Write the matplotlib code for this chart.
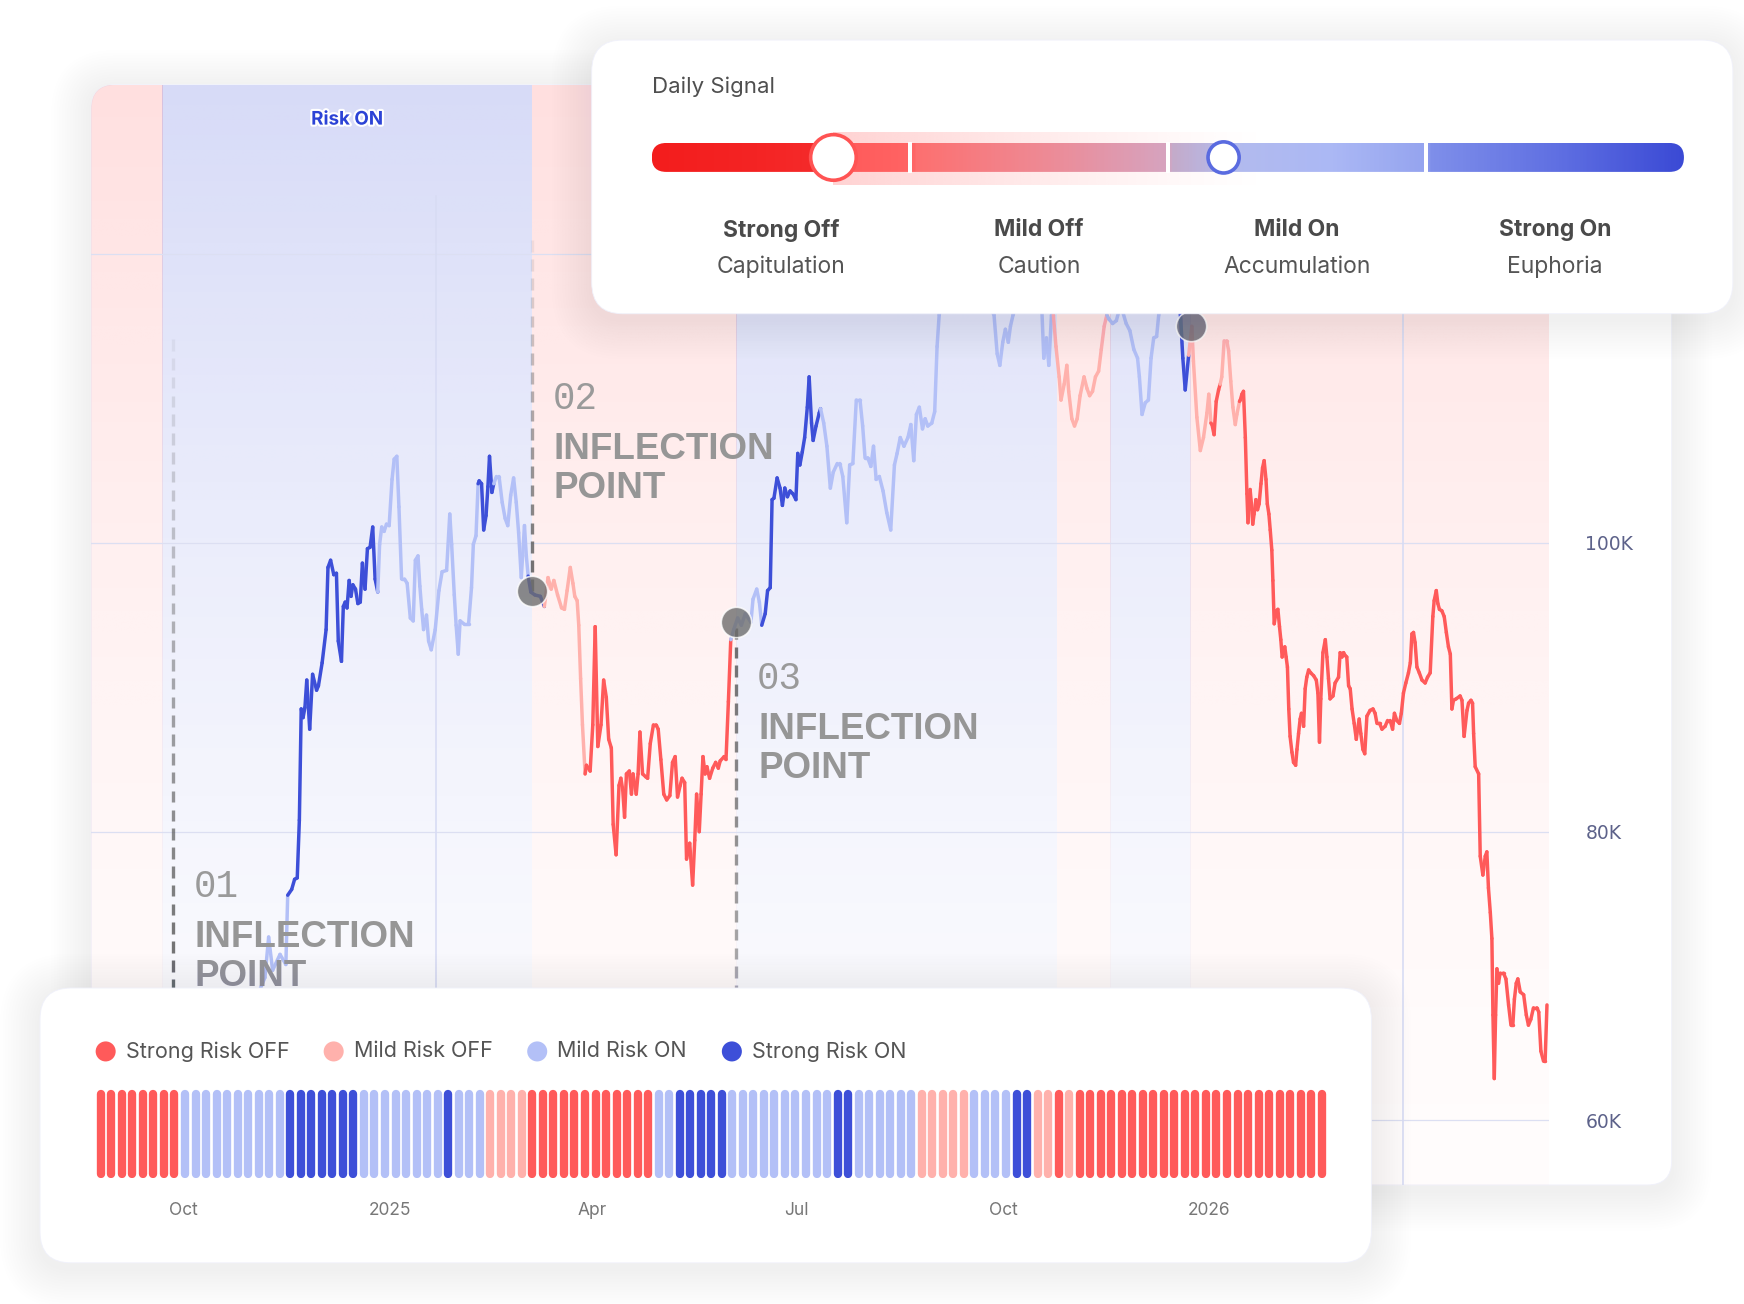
import numpy as np
import pandas as pd
import matplotlib
matplotlib.use("Agg")
import matplotlib.pyplot as plt
import matplotlib.dates as mdates
import matplotlib.transforms as mtransforms
import matplotlib.patheffects as pe
from matplotlib.patches import FancyBboxPatch, Circle, Rectangle
from matplotlib.collections import LineCollection
from matplotlib.colors import LinearSegmentedColormap, to_rgba

plt.rcParams['font.family'] = ['Inter', 'DejaVu Sans']

BASE = pd.Timestamp('2025-01-01')

# ---------------- data ----------------
regime_names = ['Strong Risk OFF', 'Mild Risk OFF', 'Mild Risk ON', 'Strong Risk ON']
regime_colors = ['#ff5a5a', '#ffb1ac', '#b3c0f7', '#3d4fd8']

# price path: days since 2025-01-01 and price in thousands
price_day = [
    -129.0, -124.0, -118.0, -112.0, -106.0, -100.0, -94.0, -88.0, -82.0, -76.0,
    -70.0, -64.6, -63.2, -61.7, -58.9, -56.7, -56.0, -54.5, -53.4, -52.4,
    -51.6, -50.9, -50.2, -49.5, -48.8, -47.7, -46.6, -45.1, -44.4, -43.0,
    -41.5, -40.8, -39.8, -38.6, -37.6, -36.9, -35.7, -35.0, -34.3, -33.6,
    -32.8, -32.1, -31.4, -30.4, -29.5, -28.6, -27.8, -26.8, -25.9, -24.9,
    -23.9, -23.0, -22.0, -21.3, -20.5, -19.6, -18.7, -17.7, -16.6, -15.8,
    -14.8, -14.0, -13.0, -11.9, -10.9, -9.7, -8.6, -7.8, -6.8, -6.1,
    -5.4, -4.7, -3.6, -2.8, -1.8, -0.3, 1.1, 2.3, 4.0, 5.2,
    5.9, 6.9, 7.6, 8.4, 9.1, 10.5, 12.3, 13.4, 14.1, 15.1,
    15.9, 16.3, 17.2, 18.0, 18.9, 19.6, 20.2, 21.1, 21.8, 22.8,
    23.8, 25.0, 26.1, 27.1, 28.2, 29.3, 30.3, 31.2, 32.2, 33.4,
    34.1, 34.8, 35.8, 37.3, 39.4, 40.9, 42.3, 43.5, 44.5, 45.9,
    47.4, 48.5, 49.5, 50.7, 51.7, 52.4, 53.3, 53.9, 54.6, 55.3,
    56.3, 56.8, 58.2, 59.2, 60.1, 61.1, 62.3, 63.3, 64.3, 65.2,
    66.2, 66.9, 68.0, 69.1, 69.8, 70.5, 71.2, 71.9, 73.0, 73.8,
    74.4, 75.6, 76.3, 77.0, 78.0, 79.2, 79.9, 80.9, 82.1, 83.1,
    83.9, 84.9, 86.0, 87.1, 88.3, 89.3, 90.3, 91.2, 92.2, 92.9,
    93.9, 94.6, 95.8, 96.9, 97.7, 98.4, 99.4, 100.1, 100.8, 101.6,
    102.3, 103.3, 104.5, 105.6, 106.6, 107.3, 108.8, 109.5, 110.4, 111.3,
    112.4, 113.9, 115.3, 116.8, 118.9, 119.7, 121.1, 122.1, 123.0, 124.3,
    125.2, 126.2, 126.9, 127.6, 128.8, 129.9, 130.8, 131.7, 132.7, 133.7,
    134.8, 135.9, 136.6, 137.4, 138.3, 139.2, 140.2, 140.9, 141.8, 142.4,
    143.5, 144.7, 145.2, 146.4, 147.6, 148.9, 150.0, 151.5, 152.5, 153.6,
    155.1, 156.2, 157.4, 158.7, 160.1, 161.1, 162.0, 163.0, 164.2, 165.2,
    166.2, 167.4, 168.8, 170.2, 171.7, 173.1, 174.1, 175.3, 176.7, 178.2,
    179.3, 180.4, 181.4, 182.5, 183.7, 184.7, 185.7, 187.2, 188.3, 189.2,
    190.0, 192.0, 194.0, 195.0, 197.0, 200.0, 203.0, 206.0, 208.5, 210.7,
    211.9, 212.9, 214.0, 215.0, 216.1, 216.9, 217.9, 220.0, 223.0, 224.5,
    226.0, 228.8, 229.5, 230.5, 231.4, 232.4, 233.1, 234.1, 235.3, 236.0,
    237.2, 238.2, 238.9, 240.1, 241.1, 242.1, 243.2, 244.7, 245.8, 246.8,
    247.9, 249.0, 250.2, 251.2, 252.3, 253.3, 254.1, 255.5, 256.9, 258.5,
    260.6, 262.0, 263.5, 264.9, 265.6, 266.6, 267.8, 269.0, 270.0, 271.0,
    272.1, 272.9, 274.5, 276.5, 278.5, 279.5, 280.5, 281.1, 282.0, 282.9,
    284.2, 285.4, 286.0, 287.3, 288.6, 289.8, 291.1, 291.8, 292.6, 293.0,
    293.8, 294.6, 295.5, 296.1, 296.7, 297.6, 298.6, 299.3, 300.1, 300.9,
    301.8, 302.4, 303.4, 303.7, 304.3, 304.9, 305.6, 306.2, 306.6, 307.1,
    307.4, 308.1, 308.4, 308.9, 309.6, 310.2, 310.8, 311.5, 312.1, 312.7,
    313.4, 313.9, 314.5, 315.0, 315.6, 316.0, 316.5, 317.3, 317.9, 318.5,
    319.0, 319.5, 320.0, 320.5, 321.0, 321.5, 322.0, 322.5, 323.2, 323.8,
    324.6, 325.1, 325.7, 326.3, 326.8, 327.6, 328.2, 328.8, 329.5, 330.3,
    331.4, 332.4, 333.0, 333.6, 334.1, 334.9, 335.8, 336.4, 337.0, 337.6,
    338.7, 339.5, 340.8, 341.4, 342.1, 342.7, 343.3, 343.9, 344.6, 345.2,
    345.9, 346.7, 347.5, 348.0, 348.6, 349.2, 350.0, 350.7, 351.5, 352.7,
    353.8, 354.6, 355.3, 356.3, 357.2, 358.4, 359.3, 360.3, 361.2, 361.9,
    362.8, 363.8, 364.5, 365.3, 366.2, 367.2, 367.9, 368.5, 369.1, 369.7,
    370.4, 371.3, 372.3, 373.5, 374.4, 375.4, 376.4, 376.9, 377.7, 378.3,
    378.9, 379.8, 380.7, 381.5, 382.3, 383.0, 383.6, 384.2, 385.2, 386.7,
    387.4, 388.2, 389.3, 389.9, 390.8, 391.4, 391.8, 392.4, 393.7, 394.3,
    395.3, 396.2, 396.8, 397.4, 398.1, 398.7, 399.1, 399.6, 400.1, 400.6,
    401.2, 401.8, 403.1, 404.0, 405.0, 405.9, 406.6, 407.2, 407.9, 408.5,
    409.4, 410.7, 411.7, 412.5, 413.4, 414.4, 415.7, 416.4, 417.2, 418.2,
    418.8, 419.5,
]
price_k = [
    64.0, 59.5, 58.5, 60.0, 62.5, 63.5, 65.5, 62.5, 63.0, 67.0,
    67.5, 69.9, 72.7, 70.4, 71.5, 70.8, 75.6, 76.0, 76.7, 76.8,
    80.8, 88.5, 87.9, 88.6, 90.5, 87.1, 90.9, 89.8, 90.1, 91.7,
    94.0, 98.3, 98.8, 97.8, 97.9, 93.2, 91.8, 95.6, 95.9, 95.5,
    97.4, 96.3, 97.1, 96.8, 95.8, 95.9, 98.6, 96.8, 99.6, 99.7,
    101.1, 97.5, 96.6, 99.9, 101.1, 100.8, 101.3, 101.2, 104.4, 105.8,
    106.0, 102.5, 97.5, 97.5, 97.2, 94.8, 94.6, 98.8, 99.1, 97.0,
    95.4, 94.0, 95.0, 93.2, 92.6, 94.0, 96.7, 98.0, 98.1, 102.0,
    99.9, 96.4, 94.3, 92.3, 94.6, 94.4, 94.4, 96.9, 99.9, 100.5,
    104.1, 104.3, 104.1, 100.9, 101.9, 103.9, 106.0, 103.5, 104.1, 104.6,
    104.6, 102.8, 101.7, 101.2, 103.3, 104.5, 102.8, 100.7, 97.6, 101.2,
    99.1, 97.7, 96.6, 96.4, 96.3, 95.6, 97.6, 96.8, 97.4, 96.4,
    95.5, 95.4, 96.7, 98.3, 97.2, 96.3, 96.0, 94.3, 90.6, 87.4,
    84.0, 84.6, 84.2, 87.4, 94.2, 85.9, 87.4, 90.5, 89.3, 86.4,
    85.8, 80.5, 78.4, 83.2, 83.7, 82.9, 81.0, 84.0, 84.2, 82.6,
    84.0, 82.6, 84.0, 86.9, 84.0, 83.8, 83.7, 86.1, 87.4, 87.4,
    87.1, 85.0, 82.6, 82.2, 82.5, 84.8, 85.2, 82.4, 83.2, 83.7,
    83.4, 78.1, 79.2, 76.3, 79.4, 82.6, 80.0, 82.6, 85.2, 84.0,
    84.5, 83.7, 84.4, 84.8, 84.4, 84.9, 85.2, 85.0, 89.0, 93.3,
    94.0, 94.8, 94.3, 95.1, 94.5, 96.1, 96.8, 95.9, 94.3, 95.1,
    96.7, 96.9, 103.0, 103.1, 104.5, 103.8, 102.6, 103.8, 103.2, 103.6,
    103.4, 103.0, 106.2, 105.4, 106.3, 107.3, 109.4, 111.5, 108.3, 107.1,
    108.1, 109.0, 109.3, 108.3, 106.7, 103.8, 104.9, 105.5, 105.5, 104.6,
    101.4, 105.4, 105.5, 109.9, 109.9, 108.1, 105.9, 105.9, 105.3, 106.7,
    104.4, 104.6, 103.6, 102.1, 100.9, 105.4, 106.2, 107.3, 106.7, 107.3,
    108.2, 105.7, 108.9, 109.4, 107.9, 108.6, 108.1, 108.3, 109.1, 113.6,
    115.8, 118.0, 117.0, 122.0, 119.5, 118.5, 119.0, 118.0, 116.5, 115.8,
    113.1, 112.3, 113.9, 114.8, 113.9, 115.0, 115.8, 117.0, 121.0, 123.0,
    118.5, 116.0, 112.8, 114.2, 112.3, 115.8, 115.8, 113.6, 111.5, 109.9,
    111.0, 112.3, 110.5, 108.6, 108.1, 108.6, 110.2, 111.5, 110.7, 110.2,
    110.5, 111.5, 111.9, 113.4, 115.0, 115.8, 115.5, 115.2, 115.4, 116.5,
    115.2, 114.7, 113.4, 112.8, 111.5, 108.9, 109.7, 109.9, 112.8, 114.2,
    114.3, 115.8, 118.5, 121.5, 124.5, 123.0, 119.0, 115.8, 112.8, 110.6,
    113.0, 115.0, 112.6, 108.7, 106.4, 107.3, 109.0, 110.3, 108.3, 108.2,
    107.5, 109.8, 110.6, 111.0, 111.5, 114.0, 114.0, 113.3, 111.2, 109.4,
    108.2, 108.9, 109.8, 109.9, 110.3, 110.5, 107.3, 103.4, 101.4, 102.7,
    103.7, 102.3, 101.3, 102.0, 103.0, 102.3, 102.7, 104.1, 105.2, 105.7,
    104.4, 102.7, 102.0, 100.9, 99.5, 97.4, 94.4, 95.3, 95.4, 94.2,
    93.3, 92.1, 92.4, 92.8, 92.1, 91.4, 88.5, 86.6, 85.5, 84.8,
    84.6, 85.7, 86.8, 87.8, 88.2, 87.3, 89.9, 90.7, 91.2, 91.0,
    90.8, 90.5, 89.6, 86.2, 89.2, 92.4, 93.3, 92.1, 90.6, 89.2,
    89.4, 90.3, 90.7, 92.4, 92.1, 92.4, 92.2, 92.1, 90.1, 89.9,
    88.5, 87.5, 86.4, 87.1, 87.8, 86.8, 85.7, 85.4, 88.0, 88.4,
    88.5, 88.2, 87.5, 87.5, 87.1, 87.3, 87.7, 87.7, 87.1, 88.2,
    87.7, 87.5, 88.2, 89.6, 90.3, 91.0, 91.7, 93.7, 93.8, 93.1,
    91.4, 91.0, 90.5, 90.3, 90.7, 91.0, 94.9, 96.0, 96.7, 95.8,
    95.4, 95.3, 94.9, 93.8, 92.8, 92.3, 88.5, 89.1, 89.2, 89.4,
    89.1, 86.6, 88.4, 88.9, 89.1, 88.9, 86.8, 84.5, 84.0, 78.3,
    77.0, 78.3, 78.6, 76.1, 74.4, 72.6, 67.3, 62.9, 67.3, 70.5,
    69.5, 70.2, 70.2, 69.8, 68.0, 66.6, 66.6, 68.4, 69.5, 69.8,
    68.9, 68.7, 67.3, 66.6, 67.0, 67.8, 67.8, 67.5, 64.8, 64.1,
    64.1, 68.0,
]

# daily signal along the price line: day it switches on, regime code
signal_change_day = [-130, -99.5, -56.3, -22.0, 16.0, 22.3, 35.3, 40.3, 56.5,
                     111.5, 123.5, 145.5, 232.8, 253.6, 280.8, 284.5, 292.8, 296.4, 303.5]
signal_change_code = [0, 2, 3, 2, 3, 2, 3, 1, 0, 2, 3, 2, 1, 2, 3, 1, 0, 1, 0]

# Risk ON / Risk OFF background periods
band_edge_day = [-130.2, -103.3, 36.1, 113.4, 234.4, 254.5, 284.8, 420.4]
band_is_on = [False, True, False, True, False, True, False]

inflection_day = [-99.5, 36.1, 113.4]
inflection_tags = ['01', '02', '03']
turn_day = [36.1, 113.4, 285.2]
turn_price_k = [96.7, 94.5, 115.0]

# regime strip (bottom card)
strip_runs = [(0, 8), (2, 10), (3, 7), (2, 8), (3, 1), (2, 3), (1, 4), (0, 12),
              (2, 2), (3, 5), (2, 10), (3, 2), (2, 6), (1, 5), (2, 4), (3, 2),
              (1, 2), (0, 1), (1, 1), (0, 24)]
strip_start, strip_end = '2024-08-25', '2026-02-20'
strip_ticks = ['2024-10-01', '2025-01-01', '2025-04-01', '2025-07-01', '2025-10-01', '2026-01-01']
strip_tick_labels = ['Oct', '2025', 'Apr', 'Jul', 'Oct', '2026']

signal_levels = [('Strong Off', 'Capitulation'), ('Mild Off', 'Caution'),
                 ('Mild On', 'Accumulation'), ('Strong On', 'Euphoria')]
signal_now, signal_prev = 0.176, 0.554

grid_k = [60, 80, 100, 120]
y_ticks_k = [60, 80, 100]

# ---------------- figure ----------------
W, H = 1568, 1172          # layout units (reference grid)
fig = plt.figure(figsize=(17.44, 13.04), dpi=100, facecolor='white')


def canvas(z):
    ax = fig.add_axes([0, 0, 1, 1], zorder=z)
    ax.set_xlim(0, W)
    ax.set_ylim(H, 0)
    ax.axis('off')
    return ax


def card(ax, x0, y0, x1, y1, r):
    for k in range(1, 16):
        s = 2.4 * k
        ax.add_patch(FancyBboxPatch((x0 - s, y0 - s + 5), (x1 - x0) + 2 * s, (y1 - y0) + 2 * s,
                                    boxstyle=f"round,pad=0,rounding_size={r + s}",
                                    fc='#5a68d6', ec='none', alpha=0.0048, zorder=1))
    p = FancyBboxPatch((x0, y0), x1 - x0, y1 - y0, boxstyle=f"round,pad=0,rounding_size={r}",
                       fc='white', ec='#f0f1fb', lw=0.6, zorder=2)
    ax.add_patch(p)
    return p


def fax(x0, y0, x1, y1):
    return [x0 / W, 1 - y1 / H, (x1 - x0) / W, (y1 - y0) / H]


ax_bg = canvas(0)
main_card = card(ax_bg, 82, 76, 1503, 1065, 22)

# ---------------- main chart ----------------
ax = fig.add_axes(fax(82, 76, 1393, 1065), zorder=1)
ax.patch.set_alpha(0)
for s in ax.spines.values():
    s.set_visible(False)

base_num = mdates.date2num(BASE)
ylo, yhi = 55530, 131750
xlo, xhi = base_num + band_edge_day[0], base_num + band_edge_day[-1]

t = np.linspace(0, 1, 300)
fade = 0.018 + 0.195 * (1 - t) ** 1.5
for i, on in enumerate(band_is_on):
    rgb = to_rgba('#4254dc' if on else '#ff5a5a')[:3]
    img = np.zeros((len(t), 1, 4))
    img[..., :3] = rgb
    img[:, 0, 3] = fade * (1.0 if on else 0.9)
    im = ax.imshow(img, extent=[base_num + band_edge_day[i], base_num + band_edge_day[i + 1], ylo, yhi],
                   aspect='auto', origin='upper', interpolation='bilinear', zorder=0)
    im.set_clip_path(main_card)

blend = mtransforms.blended_transform_factory(ax.transData, ax.transAxes)
on_mid = base_num + (band_edge_day[1] + band_edge_day[2]) / 2
ax.text(on_mid, 0.9677, 'Risk ON', transform=blend, ha='center', va='center',
        fontsize=13.5, fontweight='bold', color='#2c43d6',
        path_effects=[pe.withStroke(linewidth=3, foreground='white')], zorder=6)

for v in grid_k:
    ax.axhline(v * 1000, color='#dcdff2', lw=0.9, zorder=1)
ax.plot([base_num, base_num], [ylo, 124000], color='#d8dcf4', lw=1.2, zorder=1)
ax.axvline(base_num + 365, color='#d8dcf4', lw=1.2, zorder=1)

# price line coloured by daily signal
x = base_num + np.array(price_day)
y = np.array(price_k) * 1000
pts = np.column_stack([x, y])
segs = np.stack([pts[:-1], pts[1:]], axis=1)
mid = (np.array(price_day[:-1]) + np.array(price_day[1:])) / 2
codes = np.array(signal_change_code)[np.searchsorted(signal_change_day, mid, side='right') - 1]
lc = LineCollection(segs, colors=[regime_colors[c] for c in codes], linewidths=2.5,
                    capstyle='round', joinstyle='round', zorder=3)
ax.add_collection(lc)


def fade_dash(xday, v_from, v_to, a_from, a_to):
    f0 = (v_from - ylo) / (yhi - ylo)
    f1 = (v_to - ylo) / (yhi - ylo)
    lo, hi = min(f0, f1), max(f0, f1)
    dash, gap = 0.0105, 0.0066
    starts = np.arange(lo, hi, dash + gap)
    seg = [[(base_num + xday, s), (base_num + xday, min(s + dash, hi))] for s in starts]
    w = (starts - f0) / (f1 - f0)
    cols = [(0.33, 0.33, 0.33, a_from + (a_to - a_from) * k) for k in w]
    ax.add_collection(LineCollection(seg, colors=cols, linewidths=2.4, transform=blend, zorder=2))


fade_dash(inflection_day[0], 69000, 114500, 0.85, 0.05)
fade_dash(inflection_day[1], turn_price_k[0] * 1000, 121000, 0.85, 0.05)
fade_dash(inflection_day[2], turn_price_k[1] * 1000, ylo, 0.85, 0.25)

ax.scatter(base_num + np.array(turn_day), np.array(turn_price_k) * 1000, s=480,
           c='#6e6e6e', alpha=0.8, edgecolors='white', linewidths=1.2, zorder=5)

label_rows = [(76.2, 72.7, 70.0), (110.0, 106.5, 103.8), (90.6, 87.1, 84.4)]
for d, tag, rows in zip(inflection_day, inflection_tags, label_rows):
    xn = base_num + d
    ax.annotate(tag, xy=(xn, rows[0] * 1000), xytext=(15, 0), textcoords='offset points',
                family='Liberation Mono', fontsize=27, color='#9a9a9a', va='center', ha='left', zorder=6)
    ax.annotate('INFLECTION', xy=(xn, rows[1] * 1000), xytext=(16, 0), textcoords='offset points',
                family='Liberation Sans', fontweight='bold', fontsize=26.5, color='#969696',
                va='center', ha='left', zorder=6)
    ax.annotate('POINT', xy=(xn, rows[2] * 1000), xytext=(16, 0), textcoords='offset points',
                family='Liberation Sans', fontweight='bold', fontsize=26.5, color='#969696',
                va='center', ha='left', zorder=6)

ax.set_xlim(xlo, xhi)
ax.set_ylim(ylo, yhi)
ax.set_xticks([])
ax.set_yticks([v * 1000 for v in y_ticks_k])
ax.set_yticklabels([f'{v}K' for v in y_ticks_k], family='DejaVu Sans')
ax.yaxis.tick_right()
ax.tick_params(axis='y', length=0, pad=26, labelsize=13.5, labelcolor='#5d628a')

# ---------------- overlay cards ----------------
top = canvas(2)
card(top, 532, 36, 1558, 282, 28)
card(top, 36, 888, 1233, 1135, 28)

top.text(586, 78, 'Daily Signal', fontsize=16, color='#4f4f4f', va='center', ha='left', zorder=5)

bx0, bx1, by0, by1 = 586, 1514, 128.5, 154.5
bar_cmap = LinearSegmentedColormap.from_list('signal', [
    (0.0, '#f31d1d'), (0.10, '#f42424'), (0.17, '#f52c2c'), (0.18, '#ff5a5a'), (0.25, '#ff6464'),
    (0.255, '#fd7070'), (0.38, '#ee8a95'), (0.50, '#d6a4c0'), (0.505, '#c4abca'),
    (0.56, '#b3bbee'), (0.66, '#abb8f5'), (0.75, '#95a4ef'), (0.755, '#7f8fea'),
    (0.88, '#5f6fe2'), (1.0, '#3b4ad5')])
bar_img = bar_cmap(np.linspace(0, 1, 600))[None, :, :]
bar = top.imshow(bar_img, extent=[bx0, bx1, by1, by0], aspect='auto', zorder=4, interpolation='bilinear')
bar_clip = FancyBboxPatch((bx0, by0), bx1 - bx0, by1 - by0, boxstyle="round,pad=0,rounding_size=13",
                          transform=top.transData, fc='none', ec='none')
bar.set_clip_path(bar_clip)

knob_now = bx0 + signal_now * (bx1 - bx0)
knob_prev = bx0 + signal_prev * (bx1 - bx0)
glow = np.zeros((1, 300, 4))
glow[..., :3] = to_rgba('#ffc9c9')[:3]
glow[0, :, 3] = np.linspace(0.85, 0.0, 300) ** 1.2
top.imshow(glow, extent=[knob_now, 1135, 166, 119], aspect='auto', zorder=3.5,
           interpolation='bilinear')
for q in (1, 2, 3):
    gx = bx0 + q * (bx1 - bx0) / 4
    top.add_patch(Rectangle((gx - 1.8, by0 - 1), 3.6, by1 - by0 + 2, fc='white', ec='none', zorder=5))
top.add_patch(Circle((knob_now, 141.5), 20.5, fc='white', ec='#ff5353', lw=2.6, zorder=6))
top.add_patch(Circle((knob_prev, 141.5), 14, fc='white', ec='#5a6be0', lw=2.6, zorder=6))

for i, (name, mood) in enumerate(signal_levels):
    cx = bx0 + (i + 0.5) * (bx1 - bx0) / 4
    top.text(cx, 207, name, fontsize=16.5, fontweight='bold', color='#4a4a4a', ha='center', va='center', zorder=5)
    top.text(cx, 240, mood, fontsize=16.5, color='#555555', ha='center', va='center', zorder=5)

legend_x = [95, 300, 483, 658]
for lx, name, col in zip(legend_x, regime_names, regime_colors):
    top.add_patch(Circle((lx, 945), 9, fc=col, ec='none', zorder=5))
    top.text(lx + 18, 945, name, fontsize=15.5, color='#555555', ha='left', va='center', zorder=5)

# ---------------- regime strip ----------------
strip_codes = [c for c, n in strip_runs for _ in range(n)]
strip_dates = mdates.date2num(pd.date_range(strip_start, strip_end, periods=len(strip_codes)))
sx = fig.add_axes(fax(86, 979, 1193, 1059), zorder=3)
sx.patch.set_alpha(0)
for s in sx.spines.values():
    s.set_visible(False)
vl = sx.vlines(strip_dates, 0.05, 0.95, colors=[regime_colors[c] for c in strip_codes], linewidth=6.0)
vl.set_capstyle('round')
sx.set_xlim(strip_dates[0] - 2.3, strip_dates[-1] + 2.3)
sx.set_ylim(0, 1)
sx.set_yticks([])
sx.set_xticks(mdates.date2num(pd.to_datetime(strip_ticks)))
sx.set_xticklabels(strip_tick_labels)
sx.tick_params(axis='x', length=0, pad=17, labelsize=12.5, labelcolor='#777777')

fig.savefig('out.png', dpi=100, facecolor='white')
